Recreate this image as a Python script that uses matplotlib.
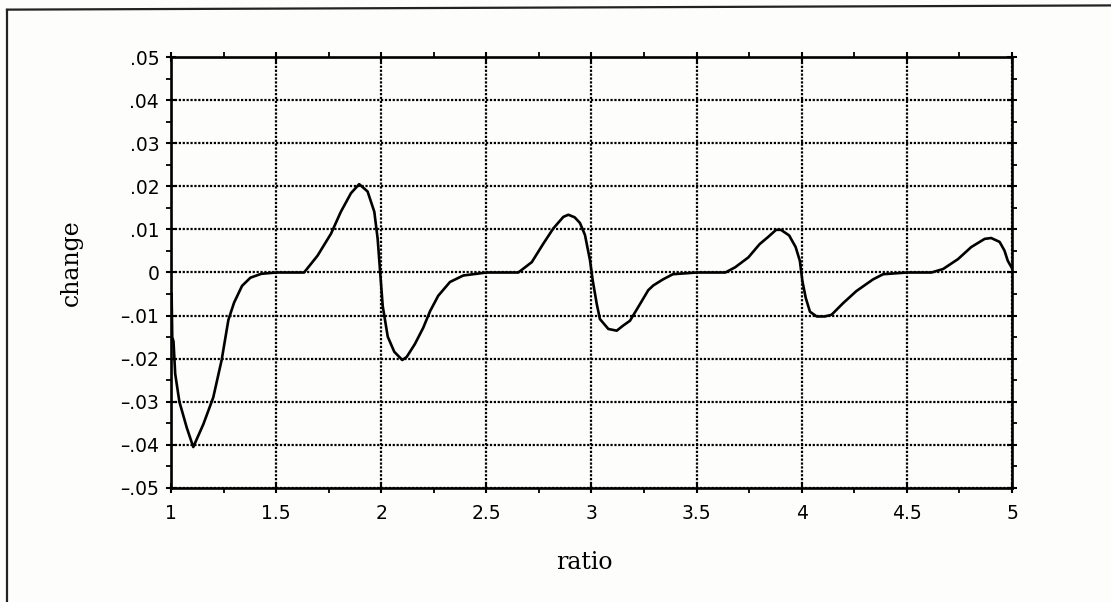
import numpy as np
import matplotlib
matplotlib.use("Agg")
import matplotlib.pyplot as plt
from matplotlib.lines import Line2D
from matplotlib.ticker import MultipleLocator

# traced curve: change vs ratio
ratio = [1.003, 1.006, 1.012, 1.020, 1.040, 1.075, 1.106, 1.154, 1.201, 1.241,
         1.273, 1.300, 1.338, 1.378, 1.430, 1.500, 1.633, 1.697, 1.761, 1.808,
         1.856, 1.895, 1.935, 1.967, 1.983, 1.995, 2.007, 2.031, 2.062, 2.100,
         2.121, 2.160, 2.200, 2.232, 2.271, 2.327, 2.390, 2.500, 2.652, 2.716,
         2.771, 2.818, 2.866, 2.890, 2.920, 2.945, 2.969, 2.993, 3.006, 3.025,
         3.040, 3.080, 3.120, 3.151, 3.183, 3.231, 3.270, 3.294, 3.340, 3.387,
         3.500, 3.637, 3.683, 3.746, 3.800, 3.839, 3.878, 3.901, 3.940, 3.971,
         3.991, 4.003, 4.019, 4.039, 4.071, 4.110, 4.142, 4.197, 4.260, 4.339,
         4.387, 4.500, 4.617, 4.672, 4.743, 4.806, 4.870, 4.901, 4.941, 4.964,
         4.980, 5.000]
change = [-0.0050, -0.0150, -0.0160, -0.0235, -0.0300, -0.0360, -0.0405, -0.0352, -0.0290, -0.0203,
          -0.0110, -0.0070, -0.0031, -0.0012, -0.0003, 0.0000, 0.0000, 0.0039, 0.0090, 0.0141,
          0.0184, 0.0205, 0.0188, 0.0141, 0.0078, 0.0000, -0.0078, -0.0149, -0.0184, -0.0203,
          -0.0196, -0.0166, -0.0128, -0.0090, -0.0054, -0.0022, -0.0007, 0.0000, 0.0000, 0.0024,
          0.0067, 0.0102, 0.0129, 0.0134, 0.0128, 0.0115, 0.0087, 0.0028, -0.0019, -0.0073,
          -0.0108, -0.0131, -0.0135, -0.0123, -0.0112, -0.0073, -0.0041, -0.0030, -0.0016, -0.0004,
          0.0000, 0.0000, 0.0012, 0.0035, 0.0066, 0.0082, 0.0099, 0.0099, 0.0086, 0.0059,
          0.0027, -0.0020, -0.0059, -0.0091, -0.0102, -0.0102, -0.0098, -0.0071, -0.0043, -0.0016,
          -0.0004, 0.0000, 0.0000, 0.0008, 0.0031, 0.0059, 0.0078, 0.0080, 0.0071, 0.0051,
          0.0027, 0.0010]

x_ticks = [1, 1.5, 2, 2.5, 3, 3.5, 4, 4.5, 5]
x_labels = ["1", "1.5", "2", "2.5", "3", "3.5", "4", "4.5", "5"]
y_ticks = [0.05, 0.04, 0.03, 0.02, 0.01, 0, -0.01, -0.02, -0.03, -0.04, -0.05]
y_labels = [".05", ".04", ".03", ".02", ".01", "0",
            "–.01", "–.02", "–.03", "–.04", "–.05"]

fig = plt.figure(figsize=(11.11, 6.02), dpi=100, facecolor="#fdfdfb")
ax = fig.add_axes([0.1539, 0.1894, 0.7570, 0.7159])
ax.set_facecolor("#fdfdfb")

ax.plot(ratio, change, color="black", lw=1.9, zorder=3)

ax.set_xlim(1, 5)
ax.set_ylim(-0.05, 0.05)
ax.set_xticks(x_ticks)
ax.set_xticklabels(x_labels)
ax.set_yticks(y_ticks)
ax.set_yticklabels(y_labels)
ax.xaxis.set_minor_locator(MultipleLocator(0.25))
ax.yaxis.set_minor_locator(MultipleLocator(0.005))

ax.grid(True, which="major", color="black", lw=1.6, linestyle=(0, (1, 0.75)))
for s in ax.spines.values():
    s.set_linewidth(1.9)

ax.tick_params(which="major", direction="inout", length=7, width=1.5,
               top=True, right=True, pad=5, labelsize=13.5)
ax.tick_params(which="minor", direction="out", length=3.5, width=1.3,
               top=True, right=True)
ax.tick_params(axis="x", pad=8)
for lab in ax.get_xticklabels() + ax.get_yticklabels():
    lab.set_fontfamily("DejaVu Sans")

ax.set_xlabel("ratio", family="DejaVu Serif", fontsize=17)
ax.set_ylabel("change", family="DejaVu Serif", fontsize=17)
ax.xaxis.set_label_coords(0.492, -0.172)
ax.xaxis.label.set_va("center")
ax.yaxis.set_label_coords(-0.118, 0.524)
ax.yaxis.label.set_va("center")

# page border, left and top edges
fig.add_artist(Line2D([0.0063, 0.0063], [0.0, 0.984], color="#222222", lw=1.6,
                      transform=fig.transFigure))
fig.add_artist(Line2D([0.0063, 1.0], [0.984, 0.991], color="#222222", lw=1.6,
                      transform=fig.transFigure))

fig.savefig("out.png", dpi=100, facecolor=fig.get_facecolor())
